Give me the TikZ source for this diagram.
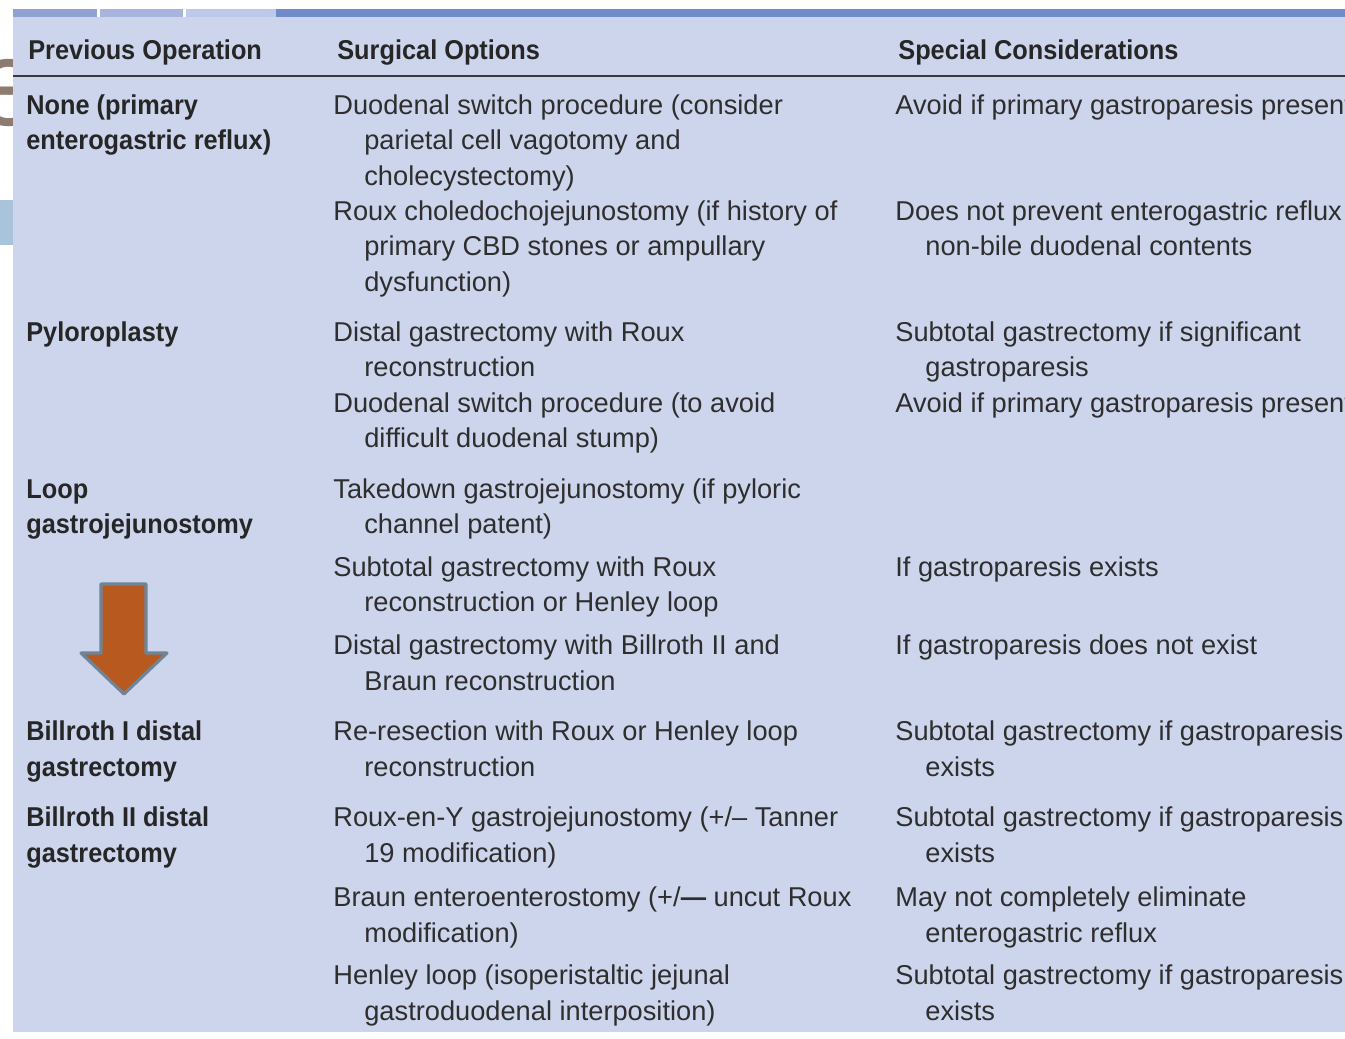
\documentclass[tikz,border=0pt]{standalone}
\usepackage{fontspec}
\setmainfont{Liberation Sans}[BoldFeatures={FakeStretch=0.93}]
\usepackage{tikz}
\usetikzlibrary{positioning}

\definecolor{tablebg}{HTML}{CDD5EC}
\definecolor{stripa}{HTML}{8FA2D2}
\definecolor{stripb}{HTML}{A7B5DE}
\definecolor{stripc}{HTML}{BDC9E8}
\definecolor{stripd}{HTML}{6F8CC8}
\definecolor{rulecol}{HTML}{3A3A3A}
\definecolor{textcol}{HTML}{2E2E2E}
\definecolor{slidecol}{HTML}{8C7B6E}
\definecolor{sidecol}{HTML}{A8C3DA}
\definecolor{arrowfill}{HTML}{B85A20}
\definecolor{arrowline}{HTML}{6E8499}

\tikzset{
  txt/.style={anchor=base west, inner sep=0pt, text=textcol,
    font=\fontsize{15.5pt}{20pt}\selectfont},
  head/.style={txt, font=\fontsize{15.5pt}{20pt}\selectfont\bfseries, text=black!85},
  prev/.style={txt, font=\fontsize{15.5pt}{20pt}\selectfont\bfseries, text=black!85},
}

\begin{document}
\begin{tikzpicture}[x=0.02cm, y=-0.02cm]
    \clip (0,0) rectangle (1345,1038);
    \fill[white] (0,0) rectangle (1345,1038);
    % slide title behind the table
    \node[inner sep=0pt, anchor=base, text=slidecol,
      font=\fontsize{70pt}{70pt}\selectfont] (title) at (9,125) {e};
    \fill[sidecol] (0,200) rectangle (13,245);
    % table background and top strip
    \fill[tablebg] (13,17) rectangle (1345,1032);
    \fill[stripa] (13,9) rectangle (97,17);
    \fill[stripb] (100,9) rectangle (183,17);
    \fill[stripc] (186,9) rectangle (276,17);
    \fill[stripd] (276,9) rectangle (1345,17);

    % header
    \node(h1) [head] at (28,59.5) {Previous Operation};
    \node(h2) [head] at (337,59.5) {Surgical Options};
    \node(h3) [head] at (898,59.5) {Special Considerations};
    \draw[rulecol, line width=1.2pt] (13,76) -- (1345,76);

    % previous operation
    \node(p1a) [prev] at (26,114.5) {None (primary};
    \node(p1b) [prev] at (26,149.5) {enterogastric reflux)};
    \node(p2)  [prev] at (26,341.5) {Pyloroplasty};
    \node(p3a) [prev] at (26,498.5) {Loop};
    \node(p3b) [prev] at (26,533.5) {gastrojejunostomy};
    \node(p4a) [prev] at (26,740.5) {Billroth I distal};
    \node(p4b) [prev] at (26,776.5) {gastrectomy};
    \node(p5a) [prev] at (26,826.5) {Billroth II distal};
    \node(p5b) [prev] at (26,862.5) {gastrectomy};

    % surgical options
    \node(o1a) [txt] at (333,114.5) {Duodenal switch procedure (consider};
    \node(o1b) [txt] at (364,149.5) {parietal cell vagotomy and};
    \node(o1c) [txt] at (364,185.5) {cholecystectomy)};
    \node(o2a) [txt] at (333,220.5) {Roux choledochojejunostomy (if history of};
    \node(o2b) [txt] at (364,255.5) {primary CBD stones or ampullary};
    \node(o2c) [txt] at (364,291.5) {dysfunction)};
    \node(o3a) [txt] at (333,341.5) {Distal gastrectomy with Roux};
    \node(o3b) [txt] at (364,376.5) {reconstruction};
    \node(o4a) [txt] at (333,412.5) {Duodenal switch procedure (to avoid};
    \node(o4b) [txt] at (364,447.5) {difficult duodenal stump)};
    \node(o5a) [txt] at (333,498.5) {Takedown gastrojejunostomy (if pyloric};
    \node(o5b) [txt] at (364,533.5) {channel patent)};
    \node(o6a) [txt] at (333,576.5) {Subtotal gastrectomy with Roux};
    \node(o6b) [txt] at (364,611.5) {reconstruction or Henley loop};
    \node(o7a) [txt] at (333,654.5) {Distal gastrectomy with Billroth II and};
    \node(o7b) [txt] at (364,690.5) {Braun reconstruction};
    \node(o8a) [txt] at (333,740.5) {Re-resection with Roux or Henley loop};
    \node(o8b) [txt] at (364,776.5) {reconstruction};
    \node(o9a) [txt] at (333,826.5) {Roux-en-Y gastrojejunostomy (+/– Tanner};
    \node(o9b) [txt] at (364,862.5) {19 modification)};
    \node(o10a) [txt] at (333,906.5) {Braun enteroenterostomy (+/\textbf{—} uncut Roux};
    \node(o10b) [txt] at (364,942.5) {modification)};
    \node(o11a) [txt] at (333,984.5) {Henley loop (isoperistaltic jejunal};
    \node(o11b) [txt] at (364,1020.5) {gastroduodenal interposition)};

    % special considerations
    \node(c1)  [txt] at (895,114.5) {Avoid if primary gastroparesis present};
    \node(c2a) [txt] at (895,220.5) {Does not prevent enterogastric reflux of};
    \node(c2b) [txt] at (925,255.5) {non-bile duodenal contents};
    \node(c3a) [txt] at (895,341.5) {Subtotal gastrectomy if significant};
    \node(c3b) [txt] at (925,376.5) {gastroparesis};
    \node(c4)  [txt] at (895,412.5) {Avoid if primary gastroparesis present};
    \node(c6)  [txt] at (895,576.5) {If gastroparesis exists};
    \node(c7)  [txt] at (895,654.5) {If gastroparesis does not exist};
    \node(c8a) [txt] at (895,740.5) {Subtotal gastrectomy if gastroparesis};
    \node(c8b) [txt] at (925,776.5) {exists};
    \node(c9a) [txt] at (895,826.5) {Subtotal gastrectomy if gastroparesis};
    \node(c9b) [txt] at (925,862.5) {exists};
    \node(c10a) [txt] at (895,906.5) {May not completely eliminate};
    \node(c10b) [txt] at (925,942.5) {enterogastric reflux};
    \node(c11a) [txt] at (895,984.5) {Subtotal gastrectomy if gastroparesis};
    \node(c11b) [txt] at (925,1020.5) {exists};

    % down arrow
    \draw[fill=arrowfill, draw=arrowline, line width=1.8pt, line join=round]
      (101,584) -- (146,584) -- (146,653) -- (167,653) -- (124,694)
      -- (81,653) -- (101,653) -- cycle;
  \end{tikzpicture}
\end{document}
